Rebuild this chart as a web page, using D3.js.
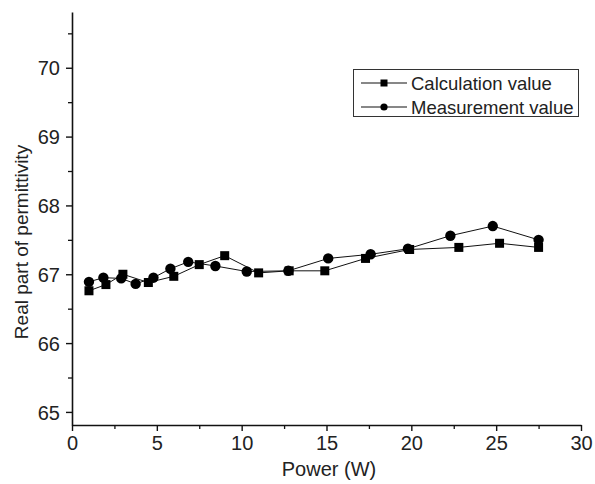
<!DOCTYPE html>
<html>
<head>
<meta charset="utf-8">
<script src="https://cdn.jsdelivr.net/npm/d3@7"></script>
<style>
  body { margin: 0; background: #fff; }
  svg text { font-family: "Liberation Sans", Arial, sans-serif; fill: #222; }
</style>
</head>
<body>
<svg id="chart" width="595" height="484"></svg>
<script>
// Calculation value (squares)
const calcPower = [1.0, 2.0, 3.0, 4.5, 6.0, 7.5, 9.0, 11.0, 12.8, 14.9, 17.3, 19.9, 22.8, 25.2, 27.5];
const calcValue = [66.76, 66.85, 67.0, 66.88, 66.97, 67.14, 67.27, 67.02, 67.05, 67.05, 67.23, 67.36, 67.39, 67.45, 67.39];

// Measurement value (circles)
const measPower = [1.0, 1.85, 2.9, 3.75, 4.8, 5.8, 6.85, 8.45, 10.3, 12.75, 15.1, 17.6, 19.8, 22.3, 24.8, 27.5];
const measValue = [66.89, 66.95, 66.94, 66.86, 66.95, 67.08, 67.18, 67.12, 67.04, 67.05, 67.23, 67.29, 67.37, 67.56, 67.70, 67.50];

const xTicks = [0, 5, 10, 15, 20, 25, 30];
const xMinor = [2.5, 7.5, 12.5, 17.5, 22.5, 27.5];
const yTicks = [65, 66, 67, 68, 69, 70];
const yMinor = [65.5, 66.5, 67.5, 68.5, 69.5, 70.5];

const seriesNames = ["Calculation value", "Measurement value"];

let svg = d3.select("#chart");

let x = d3.scaleLinear().domain([0, 30]).range([72, 581]);
let y = d3.scaleLinear().domain([64.81, 70.81]).range([425, 12]);

// minor ticks first, then major axis on top
svg.append("g")
    .attr("transform", "translate(0,425)")
    .call(d3.axisBottom(x).tickValues(xMinor).tickSize(4).tickFormat(""))
    .call(g => g.select(".domain").remove())
    .selectAll("line").attr("stroke", "#111").attr("stroke-width", 1.3);
svg.append("g")
    .attr("transform", "translate(72,0)")
    .call(d3.axisLeft(y).tickValues(yMinor).tickSize(4).tickFormat(""))
    .call(g => g.select(".domain").remove())
    .selectAll("line").attr("stroke", "#111").attr("stroke-width", 1.3);

let xAxis = svg.append("g")
    .attr("transform", "translate(0,425)")
    .call(d3.axisBottom(x).tickValues(xTicks).tickSize(6).tickSizeOuter(0).tickPadding(5).tickFormat(d3.format("d")));
let yAxis = svg.append("g")
    .attr("transform", "translate(72,0)")
    .call(d3.axisLeft(y).tickValues(yTicks).tickSize(6).tickSizeOuter(0).tickPadding(6).tickFormat(d3.format("d")));

[xAxis, yAxis].forEach(g => {
  g.select(".domain").attr("stroke", "#111").attr("stroke-width", 1.6);
  g.selectAll(".tick line").attr("stroke", "#111").attr("stroke-width", 1.4);
  g.selectAll(".tick text").attr("font-size", 20).attr("fill", "#222")
      .style("font-family", "'Liberation Sans', Arial, sans-serif");
});
yAxis.selectAll(".tick text").attr("dy", "0.36em");

// axis titles
svg.append("text")
    .attr("x", 329).attr("y", 476)
    .attr("text-anchor", "middle")
    .attr("font-size", 20)
    .text("Power (W)");
svg.append("text")
    .attr("transform", "translate(28,242) rotate(-90)")
    .attr("text-anchor", "middle")
    .attr("font-size", 19)
    .text("Real part of permittivity");

// lines
let line = d3.line().x(d => x(d[0])).y(d => y(d[1]));
let calcPts = calcPower.map((p, i) => [p, calcValue[i]]);
let measPts = measPower.map((p, i) => [p, measValue[i]]);

svg.append("path").datum(calcPts)
    .attr("d", line).attr("fill", "none").attr("stroke", "#111").attr("stroke-width", 1);
svg.append("path").datum(measPts)
    .attr("d", line).attr("fill", "none").attr("stroke", "#111").attr("stroke-width", 1);

// markers
svg.selectAll(".sq").data(calcPts).enter().append("rect")
    .attr("class", "sq")
    .attr("x", d => x(d[0]) - 4.5).attr("y", d => y(d[1]) - 4.5)
    .attr("width", 9).attr("height", 9)
    .attr("fill", "#000");
svg.selectAll(".ci").data(measPts).enter().append("circle")
    .attr("class", "ci")
    .attr("cx", d => x(d[0])).attr("cy", d => y(d[1]))
    .attr("r", 5.2)
    .attr("fill", "#000");

// legend
let legend = svg.append("g");
legend.append("rect")
    .attr("x", 353.5).attr("y", 69.5).attr("width", 225).attr("height", 47)
    .attr("fill", "#fff").attr("stroke", "#333").attr("stroke-width", 1);

seriesNames.forEach((name, i) => {
  let cy = 83 + i * 24;
  let row = legend.append("g");
  row.append("line")
      .attr("x1", 361).attr("x2", 407).attr("y1", cy).attr("y2", cy)
      .attr("stroke", "#111").attr("stroke-width", 1.2);
  if (i === 0) {
    row.append("rect").attr("x", 380.5).attr("y", cy - 3.5).attr("width", 7).attr("height", 7).attr("fill", "#000");
  } else {
    row.append("circle").attr("cx", 384).attr("cy", cy).attr("r", 3.6).attr("fill", "#000");
  }
  row.append("text")
      .attr("x", 411).attr("y", cy).attr("dy", "0.36em")
      .attr("font-size", 18.5)
      .text(name);
});
</script>
</body>
</html>
